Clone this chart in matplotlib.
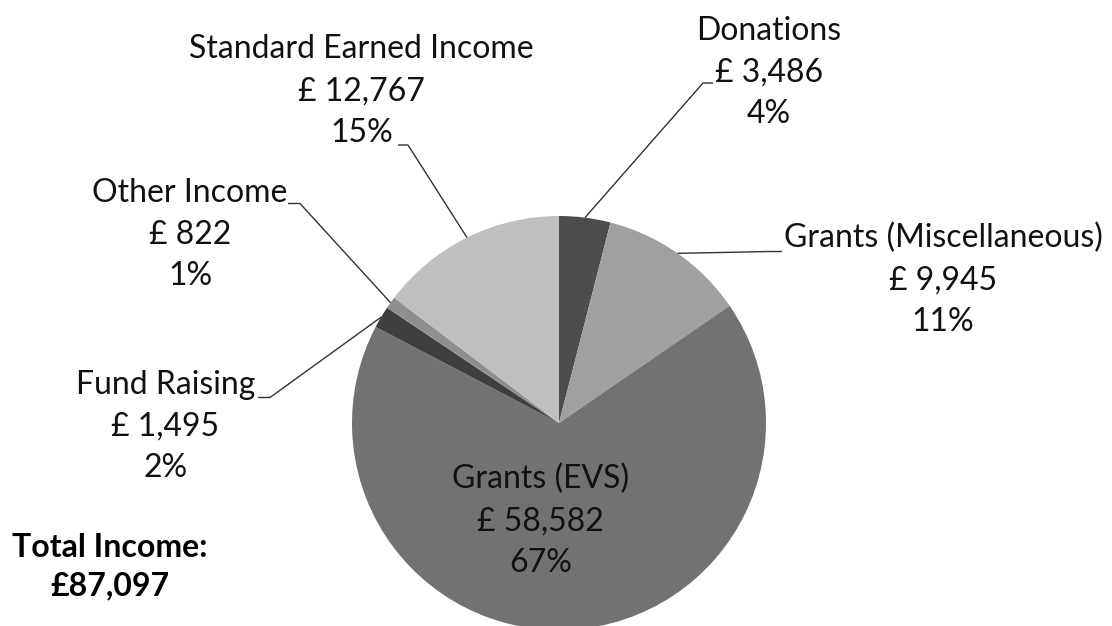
import matplotlib
matplotlib.use("Agg")
import matplotlib.pyplot as plt
import numpy as np

# ---- data ----
categories = ["Donations", "Grants (Miscellaneous)", "Grants (EVS)",
              "Fund Raising", "Other Income", "Standard Earned Income"]
amounts = [3486, 9945, 58582, 1495, 822, 12767]
colors = ["#4d4d4d", "#a0a0a0", "#727272", "#3f3f3f", "#8e8e8e", "#bfbfbf"]
total_title = "Total Income:"

plt.rcParams['font.family'] = ['Lato', 'DejaVu Sans']

W, H = 1112, 626
fig = plt.figure(figsize=(W / 100, H / 100), dpi=100)
ax = fig.add_axes([0, 0, 1, 1])

cx, cy, r = 559, H - 423, 207
wedges, _ = ax.pie(amounts, colors=colors, startangle=90, counterclock=False,
                   center=(cx, cy), radius=r, wedgeprops=dict(linewidth=0))
ax.set_xlim(0, W)
ax.set_ylim(0, H)
ax.set_aspect('equal')
ax.axis('off')

total = sum(amounts)

# layout (pixel coords from top-left): label centre x, first baseline y
label_pos = {
    "Donations": (769, 39.5),
    "Grants (Miscellaneous)": (943, 247.5),
    "Grants (EVS)": (540.5, 488.5),
    "Fund Raising": (165.5, 393.5),
    "Other Income": (190, 201.5),
    "Standard Earned Income": (361.5, 58.5),
}
# leader line: elbow point, end point (pixel coords)
leaders = {
    "Donations": ((703, 83), (713, 83)),
    "Grants (Miscellaneous)": ((770, 251.5), (782, 251.5)),
    "Fund Raising": ((270, 397.5), (258, 397.5)),
    "Other Income": ((300, 203.5), (288, 203.5)),
    "Standard Earned Income": ((408, 145), (398, 145)),
}

FS = 23
offsets = [0, 42.5, 83.5]
for w, cat, val in zip(wedges, categories, amounts):
    lines = [cat, f"£ {val:,}", f"{round(100 * val / total)}%"]
    x, y0 = label_pos[cat]
    for off, txt in zip(offsets, lines):
        ax.text(x, H - (y0 + off), txt, ha='center', va='baseline',
                fontsize=FS, color='#111111')
    if cat in leaders:
        ang = np.deg2rad((w.theta1 + w.theta2) / 2)
        px, py = cx + r * np.cos(ang), cy + r * np.sin(ang)
        (ex, ey), (tx, ty) = leaders[cat]
        ax.plot([px, ex, tx], [py, H - ey, H - ty], color='#333333', lw=1.0,
                solid_capstyle='butt', zorder=5)

ax.text(109.5, H - 557.3, total_title, ha='center', va='baseline',
        fontsize=FS, fontweight='bold', color='black')
ax.text(109.5, H - 595, f"£{total:,}", ha='center', va='baseline',
        fontsize=FS, fontweight='bold', color='black')

fig.savefig("out.png", dpi=100)
